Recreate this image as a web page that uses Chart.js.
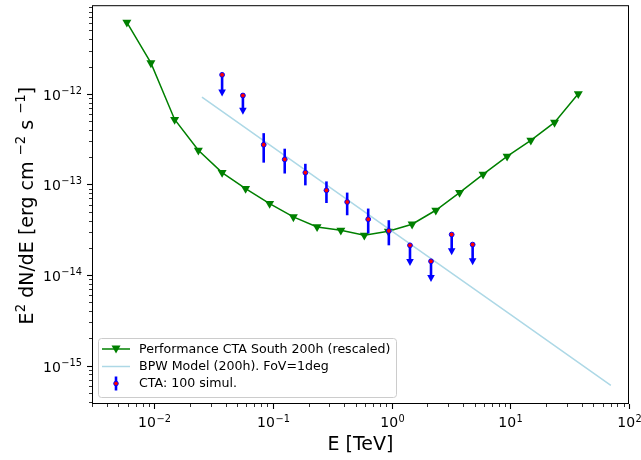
<!DOCTYPE html>
<html>
<head>
<meta charset="utf-8">
<script src="https://cdn.jsdelivr.net/npm/chart.js@4.4.1/dist/chart.umd.min.js"></script>
<style>
  html, body { margin: 0; padding: 0; background: #fff; }
  #wrap { width: 641px; height: 460px; }
</style>
</head>
<body>
<div id="wrap"><canvas id="sed" width="641" height="460"></canvas></div>
<script>
// curva de sensibilidad CTA Sur 200h (reescalada)
const perfE = [0.0059, 0.0094, 0.0149, 0.0236, 0.0374, 0.059, 0.094, 0.149, 0.236, 0.374,
               0.59, 0.94, 1.49, 2.36, 3.74, 5.9, 9.4, 14.9, 23.6, 37.4];
const perfF = [6.15e-12, 2.19e-12, 5.21e-13, 2.38e-13, 1.35e-13, 9.0e-14, 6.15e-14, 4.38e-14, 3.40e-14, 3.12e-14,
               2.75e-14, 3.04e-14, 3.64e-14, 5.19e-14, 8.13e-14, 1.29e-13, 2.04e-13, 3.06e-13, 4.83e-13, 1.0e-12];

// modelo BPW (200h), FoV = 1deg
const modelE = [0.0253, 0.1, 1, 10, 70.3];
const modelF = [9.18e-13, 2.58e-13, 3.08e-14, 3.68e-15, 6.08e-16];

// CTA: 100 simulaciones (ul = 1 -> límite superior)
const ctaE  = [0.0374, 0.056, 0.0838, 0.126, 0.188, 0.283, 0.423, 0.636, 0.949, 1.43, 2.15, 3.21, 4.82];
const ctaF  = [1.62e-12, 9.58e-13, 2.74e-13, 1.89e-13, 1.35e-13, 8.61e-14, 6.4e-14, 4.13e-14, 3.07e-14, 2.13e-14, 1.42e-14, 2.80e-14, 2.17e-14];
const ctaHi = [null, null, 3.68e-13, 2.48e-13, 1.69e-13, 1.08e-13, 8.13e-14, 5.42e-14, 4.03e-14, null, null, null, null];
const ctaLo = [9.58e-13, 6.02e-13, 1.74e-13, 1.32e-13, 9.77e-14, 6.24e-14, 4.57e-14, 2.88e-14, 2.13e-14, 1.29e-14, 8.63e-15, 1.70e-14, 1.32e-14];
const ctaUL = [1, 1, 0, 0, 0, 0, 0, 0, 0, 1, 1, 1, 1];

const labels = ['Performance CTA South 200h (rescaled)', 'BPW Model (200h). FoV=1deg', 'CTA: 100 simul.'];

const xRange = [0.003, 100];
const yRange = [3.78e-16, 9.5e-12];

const FONT = '"DejaVu Sans", sans-serif';

// ticks 1..9 x 10^n dentro del rango
const logTicks = (min, max) => {
    const out = [];
    for (let e = Math.floor(Math.log10(min)); e <= Math.ceil(Math.log10(max)); e++) {
        for (let m = 1; m < 10; m++) {
            const v = m * Math.pow(10, e);
            if (v >= min * 0.9999 && v <= max * 1.0001) out.push({ value: v });
        }
    }
    return out;
};

const isMajor = (v) => Math.abs(Math.log10(v) - Math.round(Math.log10(v))) < 1e-6;

// dibuja "10^n" al estilo mathtext
function drawPow(ctx, v, x, base, align) {
    const e = Math.round(Math.log10(v));
    const ex = (e < 0 ? '\u2212' : '') + Math.abs(e);
    ctx.font = '14px ' + FONT;
    const w1 = ctx.measureText('10').width;
    ctx.font = '9.8px ' + FONT;
    const w2 = ctx.measureText(ex).width;
    const total = w1 + w2 + 0.5;
    let x0 = align === 'right' ? x - total : x - total / 2;
    ctx.fillStyle = '#000';
    ctx.textAlign = 'left';
    ctx.textBaseline = 'alphabetic';
    ctx.font = '14px ' + FONT;
    ctx.fillText('10', x0, base);
    ctx.font = '9.8px ' + FONT;
    ctx.fillText(ex, x0 + w1 + 0.5, base - 5.5);
}

// ejes: marcas, etiquetas, marco y título del eje y con superíndices
const axesPlugin = {
    id: 'axesPlugin',
    afterDraw(chart) {
        const { ctx, chartArea: a, scales: { x, y } } = chart;
        ctx.save();
        ctx.strokeStyle = '#000';
        x.ticks.forEach(t => {
            const px = Math.round(x.getPixelForValue(t.value)) + 0.5;
            const maj = isMajor(t.value);
            ctx.lineWidth = maj ? 1.1 : 0.8;
            ctx.beginPath();
            ctx.moveTo(px, a.bottom);
            ctx.lineTo(px, a.bottom + (maj ? 5 : 3));
            ctx.stroke();
            if (maj) drawPow(ctx, t.value, px, a.bottom + 23, 'center');
        });
        y.ticks.forEach(t => {
            const py = Math.round(y.getPixelForValue(t.value)) + 0.5;
            const maj = isMajor(t.value);
            ctx.lineWidth = maj ? 1.1 : 0.8;
            ctx.beginPath();
            ctx.moveTo(a.left, py);
            ctx.lineTo(a.left - (maj ? 5 : 3), py);
            ctx.stroke();
            if (maj) drawPow(ctx, t.value, a.left - 10, py + 5, 'right');
        });
        ctx.lineWidth = 1;
        ctx.strokeRect(a.left + 0.5, a.top + 0.5, a.right - a.left - 1, a.bottom - a.top - 1);

        // título eje y: E^2 dN/dE [erg cm ^-2 s ^-1]
        const big = '19px ' + FONT, sup = '13.3px ' + FONT;
        const parts = [['E', big, 0], ['2', sup, 8], [' dN/dE [erg cm ', big, 0], ['\u22122', sup, 8],
                       [' s ', big, 0], ['\u22121', sup, 8], [']', big, 0]];
        let total = 0;
        parts.forEach(p => { ctx.font = p[1]; total += ctx.measureText(p[0]).width; });
        ctx.translate(33, (a.top + a.bottom) / 2 + 1);
        ctx.rotate(-Math.PI / 2);
        ctx.fillStyle = '#000';
        ctx.textAlign = 'left';
        ctx.textBaseline = 'alphabetic';
        let cx = -total / 2;
        parts.forEach(p => {
            ctx.font = p[1];
            ctx.fillText(p[0], cx, -p[2]);
            cx += ctx.measureText(p[0]).width;
        });
        ctx.restore();
    }
};

// barras de error y flechas de límite superior
const errorBarPlugin = {
    id: 'errorBarPlugin',
    beforeDatasetDraw(chart, args) {
        if (args.index !== 2) return;
        const { ctx, scales: { x, y } } = chart;
        ctx.save();
        ctx.strokeStyle = 'blue';
        ctx.fillStyle = 'blue';
        ctx.lineWidth = 2.6;
        ctaE.forEach((e, i) => {
            const px = x.getPixelForValue(e);
            const pLo = y.getPixelForValue(ctaLo[i]);
            const pHi = ctaUL[i] ? y.getPixelForValue(ctaF[i]) : y.getPixelForValue(ctaHi[i]);
            ctx.beginPath();
            ctx.moveTo(px, pHi);
            ctx.lineTo(px, ctaUL[i] ? pLo - 4 : pLo);
            ctx.stroke();
            if (ctaUL[i]) {
                ctx.beginPath();
                ctx.moveTo(px - 3.8, pLo - 6);
                ctx.lineTo(px + 3.8, pLo - 6);
                ctx.lineTo(px, pLo + 1);
                ctx.closePath();
                ctx.fill();
            }
        });
        ctx.restore();
    }
};

// leyenda dentro del área del gráfico
const legendPlugin = {
    id: 'legendBox',
    afterDraw(chart) {
        const { ctx } = chart;
        ctx.save();
        const bx = 98.5, by = 338.5, bw = 298, bh = 59, r = 3;
        ctx.beginPath();
        ctx.roundRect(bx, by, bw, bh, r);
        ctx.fillStyle = 'rgba(255,255,255,0.8)';
        ctx.fill();
        ctx.strokeStyle = '#cccccc';
        ctx.lineWidth = 1;
        ctx.stroke();

        const rows = [349, 366.5, 383.5];
        const hx0 = 102, hx1 = 130, hm = 116;
        // fila 1: línea verde con triángulo
        ctx.strokeStyle = 'green';
        ctx.lineWidth = 1.5;
        ctx.beginPath(); ctx.moveTo(hx0, rows[0]); ctx.lineTo(hx1, rows[0]); ctx.stroke();
        ctx.fillStyle = 'green';
        ctx.beginPath();
        ctx.moveTo(hm - 4.5, rows[0] - 3.5);
        ctx.lineTo(hm + 4.5, rows[0] - 3.5);
        ctx.lineTo(hm, rows[0] + 4.5);
        ctx.closePath(); ctx.fill();
        // fila 2: línea celeste
        ctx.strokeStyle = 'lightblue';
        ctx.beginPath(); ctx.moveTo(hx0, rows[1]); ctx.lineTo(hx1, rows[1]); ctx.stroke();
        // fila 3: barra de error
        ctx.strokeStyle = 'blue';
        ctx.lineWidth = 2.6;
        ctx.beginPath(); ctx.moveTo(hm, rows[2] - 7); ctx.lineTo(hm, rows[2] + 7); ctx.stroke();
        ctx.beginPath(); ctx.arc(hm, rows[2], 2.3, 0, Math.PI * 2);
        ctx.fillStyle = 'red'; ctx.fill();
        ctx.lineWidth = 1; ctx.strokeStyle = 'blue'; ctx.stroke();

        ctx.fillStyle = '#000';
        ctx.font = '12.6px ' + FONT;
        ctx.textAlign = 'left';
        ctx.textBaseline = 'middle';
        labels.forEach((t, i) => ctx.fillText(t, 139, rows[i] + 0.5));
        ctx.restore();
    }
};

const ctx = document.getElementById('sed');

new Chart(ctx, {
    type: 'scatter',
    data: {
        datasets: [
            {
                label: labels[0],
                data: perfE.map((e, i) => ({ x: e, y: perfF[i] })),
                showLine: true,
                borderColor: 'green',
                backgroundColor: 'green',
                borderWidth: 1.5,
                pointStyle: 'triangle',
                rotation: 180,
                pointRadius: 5.2,
                pointBorderWidth: 0,
                order: 3,
            },
            {
                label: labels[1],
                data: modelE.map((e, i) => ({ x: e, y: modelF[i] })),
                showLine: true,
                borderColor: 'lightblue',
                borderWidth: 1.5,
                pointRadius: 0,
                order: 2,
            },
            {
                label: labels[2],
                data: ctaE.map((e, i) => ({ x: e, y: ctaF[i] })),
                showLine: false,
                pointStyle: 'circle',
                pointRadius: 2.4,
                pointBorderWidth: 1,
                borderColor: 'blue',
                backgroundColor: 'red',
                order: 1,
            },
        ],
    },
    options: {
        responsive: false,
        animation: false,
        layout: { padding: { top: 4, right: 12, left: 0, bottom: 0 } },
        plugins: {
            legend: { display: false },
            tooltip: { enabled: false },
        },
        scales: {
            x: {
                type: 'logarithmic',
                min: xRange[0],
                max: xRange[1],
                afterBuildTicks: (s) => { s.ticks = logTicks(s.min, s.max); },
                afterFit: (s) => { s.height = 56; },
                grid: { display: false },
                border: { display: false },
                ticks: { display: false },
                title: {
                    display: true,
                    text: 'E [TeV]',
                    color: '#000',
                    font: { family: FONT, size: 19 },
                    padding: { top: 0, bottom: 4 },
                },
            },
            y: {
                type: 'logarithmic',
                min: yRange[0],
                max: yRange[1],
                afterBuildTicks: (s) => { s.ticks = logTicks(s.min, s.max); },
                afterFit: (s) => { s.width = 92; },
                grid: { display: false },
                border: { display: false },
                ticks: { display: false },
                title: { display: false },
            },
        },
    },
    plugins: [errorBarPlugin, axesPlugin, legendPlugin],
});
</script>
</body>
</html>
